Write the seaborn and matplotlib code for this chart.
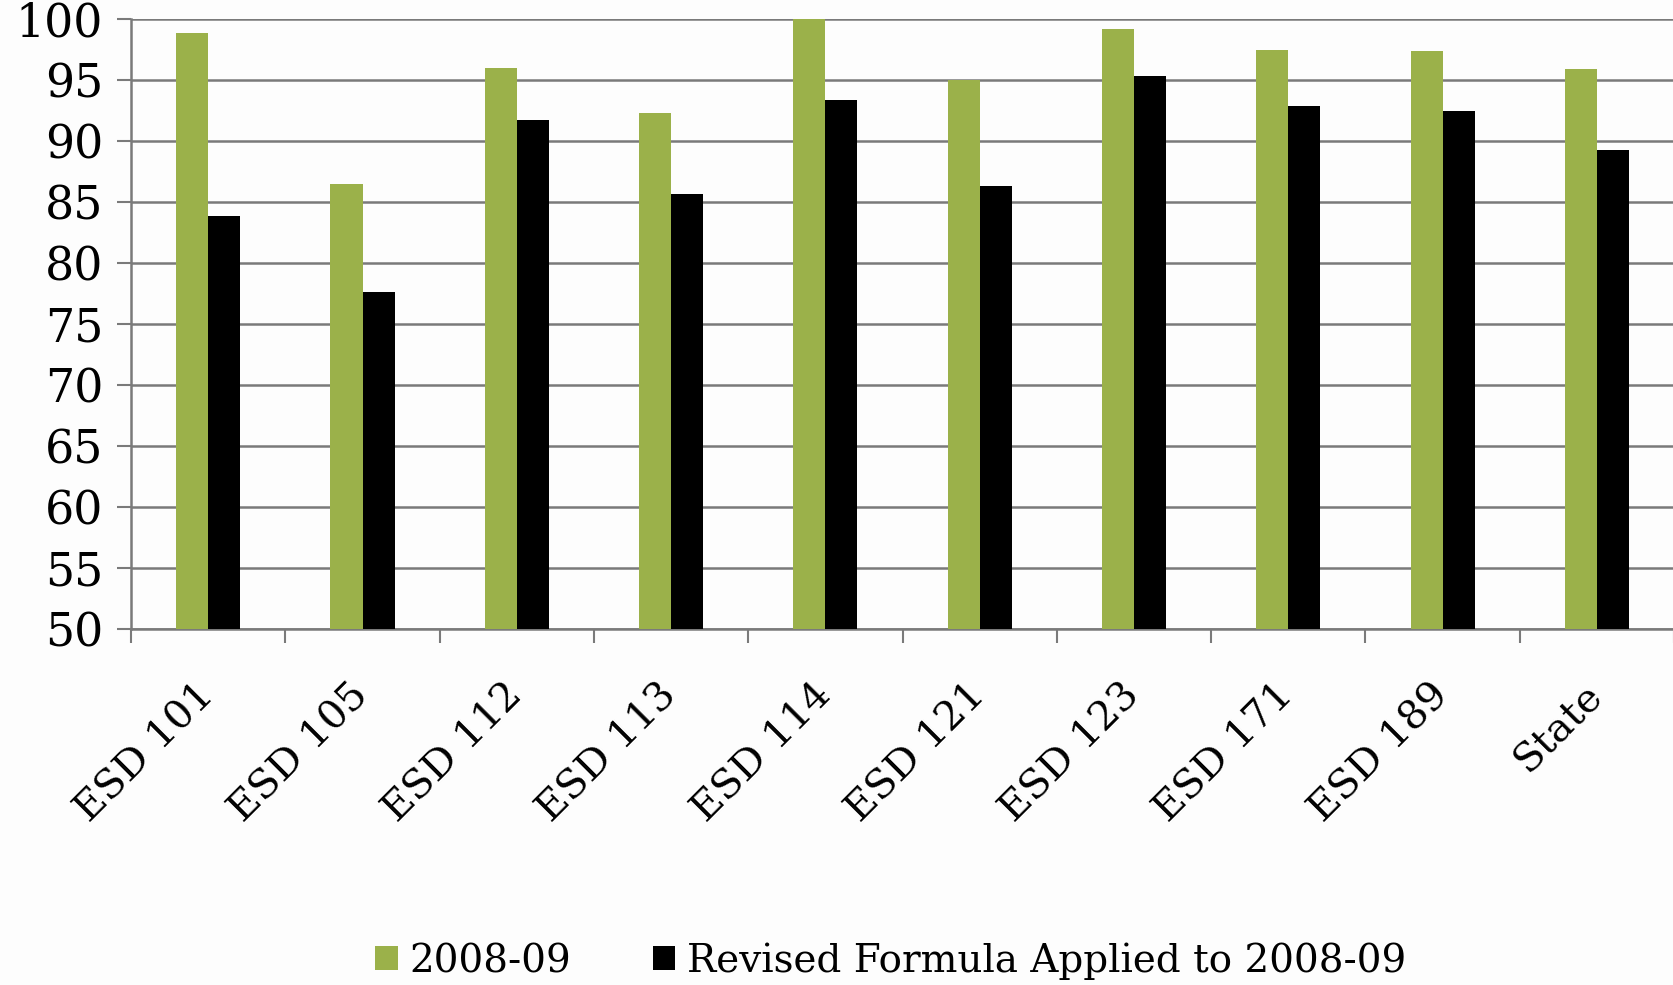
import matplotlib
matplotlib.use("Agg")
import matplotlib.pyplot as plt
import seaborn as sns
import pandas as pd
from matplotlib.ticker import FixedLocator

# ---- data ----
categories = ["ESD 101", "ESD 105", "ESD 112", "ESD 113", "ESD 114",
              "ESD 121", "ESD 123", "ESD 171", "ESD 189", "State"]
series_names = ["2008-09", "Revised Formula Applied to 2008-09"]
values_2008 = [98.9, 86.5, 96.0, 92.3, 100.0, 95.0, 99.2, 97.5, 97.4, 95.9]
values_revised = [83.9, 77.6, 91.7, 85.7, 93.35, 86.35, 95.35, 92.9, 92.5, 89.25]
y_ticks = [50, 55, 60, 65, 70, 75, 80, 85, 90, 95, 100]

colors = ["#9BB14A", "#000000"]
grid_color = "#7a7a7a"

sns.set_theme(style="white")
plt.rcParams['font.family'] = ['DejaVu Serif']
plt.rcParams['text.color'] = 'black'
plt.rcParams['xtick.color'] = 'black'
plt.rcParams['ytick.color'] = 'black'
plt.rcParams['xtick.labelcolor'] = 'black'
plt.rcParams['ytick.labelcolor'] = 'black'

df = pd.DataFrame({
    "Region": categories * 2,
    "Series": [series_names[0]] * len(categories) + [series_names[1]] * len(categories),
    "Value": values_2008 + values_revised,
})

fig = plt.figure(figsize=(16.74, 9.85), dpi=100)
fig.patch.set_facecolor("#fdfdfd")
ax = fig.add_axes([0.0783, 0.3616, 0.9217, 0.6189])
ax.set_facecolor("#fdfdfd")

sns.barplot(data=df, x="Region", y="Value", hue="Series", order=categories,
            hue_order=series_names, palette=colors, width=0.415,
            saturation=1, errorbar=None, ax=ax, linewidth=0, zorder=3)

ax.set_ylim(50, 100)
ax.set_xlim(-0.5, len(categories) - 0.5)
ax.set_yticks(y_ticks)
ax.set_yticklabels([str(v) for v in y_ticks], fontsize=33, color="black")
ax.yaxis.grid(True, color=grid_color, linewidth=1.8, zorder=0)
ax.set_axisbelow(True)

ax.set_xticks(range(len(categories)))
ax.set_xticklabels(categories, rotation=45, ha="right", va="center",
                   rotation_mode="anchor", fontsize=29, color="black")
ax.xaxis.set_minor_locator(FixedLocator([i - 0.5 for i in range(len(categories) + 1)]))
ax.tick_params(axis="x", which="major", length=0, pad=44)
ax.tick_params(axis="x", which="minor", length=10, width=1.5, color=grid_color, direction="out", bottom=True)
ax.tick_params(axis="y", which="major", length=10, width=1.5, color=grid_color, direction="out", left=True, pad=10)

ax.set_xlabel("")
ax.set_ylabel("")
for s in ["top", "right"]:
    ax.spines[s].set_visible(False)
for s in ["left", "bottom"]:
    ax.spines[s].set_color(grid_color)
    ax.spines[s].set_linewidth(1.8)

sns.move_legend(ax, "center", bbox_to_anchor=(0.532, 0.024),
                bbox_transform=fig.transFigure, ncol=2, frameon=False,
                title=None, fontsize=28, handlelength=0.58, handleheight=0.58,
                handletextpad=0.3, columnspacing=2.1, labelcolor="black")

fig.savefig("out.png", dpi=100, facecolor=fig.get_facecolor())
